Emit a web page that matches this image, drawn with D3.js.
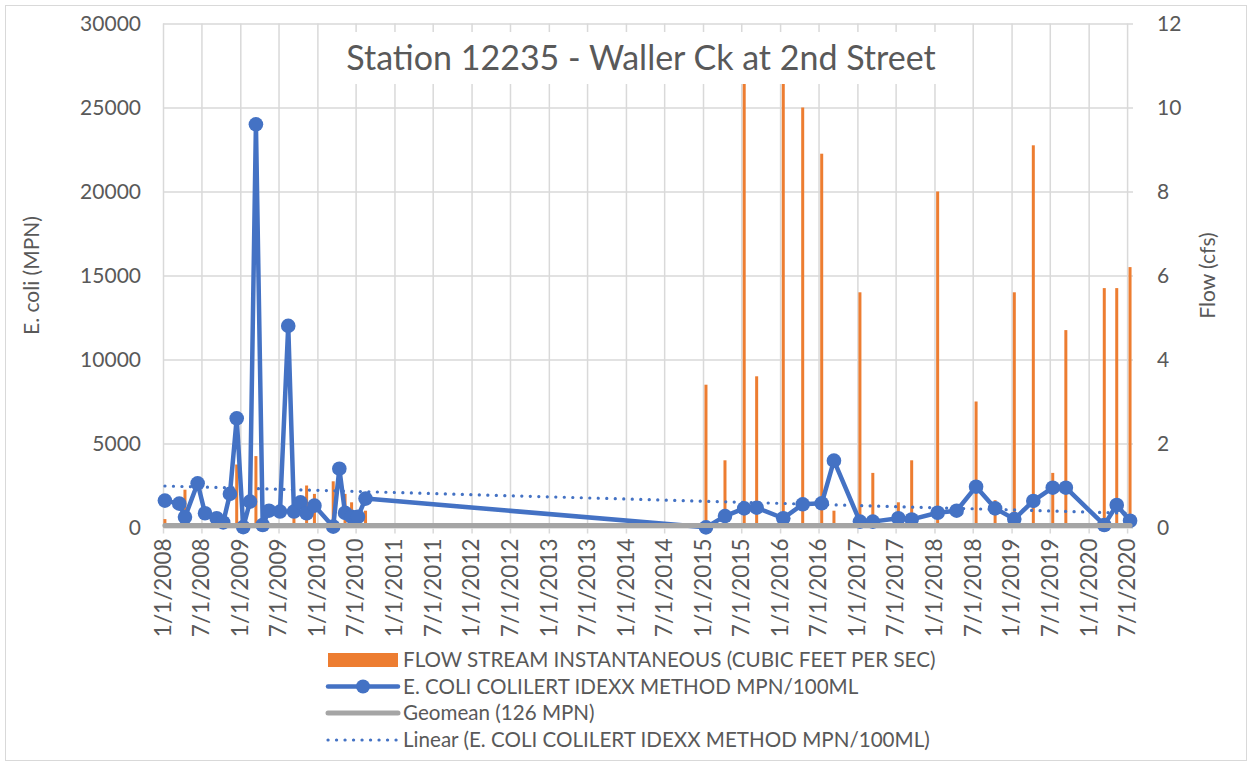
<!DOCTYPE html>
<html>
<head>
<meta charset="utf-8">
<script src="https://cdn.jsdelivr.net/npm/d3@7"></script>
<style>
  body { margin: 0; background: #fff; }
  text { font-family: Lato, "Open Sans", sans-serif; fill: #595959; }
</style>
</head>
<body>
<div id="chart"></div>
<script>
// sample dates (E. coli + flow measured the same day)
const sampleDates = [
  "2008-01-10", "2008-03-18", "2008-04-14", "2008-06-13", "2008-07-18", "2008-09-11",
  "2008-10-12", "2008-11-13", "2008-12-15", "2009-01-15", "2009-02-16", "2009-03-16",
  "2009-04-17", "2009-05-17", "2009-07-08", "2009-08-16", "2009-09-12", "2009-10-13",
  "2009-11-11", "2009-12-18", "2010-03-17", "2010-04-15", "2010-05-12", "2010-06-12",
  "2010-07-12", "2010-08-17",
  "2015-01-15", "2015-04-15", "2015-07-15", "2015-09-12", "2016-01-16", "2016-04-17",
  "2016-07-16", "2016-09-12", "2017-01-13", "2017-03-15", "2017-07-14", "2017-09-15",
  "2018-01-16", "2018-04-16", "2018-07-17", "2018-10-15", "2019-01-14", "2019-04-14",
  "2019-07-15", "2019-09-15", "2020-03-15", "2020-05-13", "2020-07-15"
];
// E. COLI COLILERT IDEXX METHOD MPN/100ML
const ecoli = [
  1600, 1420, 620, 2630, 850, 550,
  300, 2000, 6500, 20, 1540, 24000,
  150, 1000, 950, 12000, 950, 1500,
  850, 1300, 50, 3500, 870, 640,
  640, 1720,
  10, 680, 1140, 1180, 550, 1380,
  1440, 3980, 350, 350, 550, 480,
  880, 1000, 2430, 1140, 500, 1580,
  2370, 2370, 150, 1340, 400
];
// FLOW STREAM INSTANTANEOUS (cfs), null = not recorded
const flow = [
  0.2, null, 0.9, null, null, null,
  null, null, 1.5, null, null, 1.7,
  null, null, null, null, 0.3, null,
  1.0, 0.8, 1.1, null, 0.8, 0.6,
  null, 0.4,
  3.4, 1.6, 11.0, 3.6, 11.2, 10.0,
  8.9, 0.4, 5.6, 1.3, 0.6, 1.6,
  8.0, null, 3.0, 0.65, 5.6, 9.1,
  1.3, 4.7, 5.7, 5.7, 6.2
];
const geomean = 126;
const trendEnds = [2470, 850];   // linear trendline value at first and last sample
const leftTicks = [0, 5000, 10000, 15000, 20000, 25000, 30000];
const rightTicks = [0, 2, 4, 6, 8, 10, 12];

const W = 1252, H = 766;
const plot = { left: 163, right: 1133, top: 23.5, bottom: 527.5 };

const parse = d3.timeParse("%Y-%m-%d");
const dates = sampleDates.map(parse);

const svg = d3.select("#chart").append("svg")
  .attr("width", W).attr("height", H);

svg.append("rect").attr("x", 5.5).attr("y", 5.5)
  .attr("width", W - 11).attr("height", H - 11)
  .attr("fill", "#fff").attr("stroke", "#d9d9d9");

const x = d3.scaleTime()
  .domain([new Date(2008, 0, 1), new Date(2020, 6, 29)])
  .range([plot.left, plot.right]);
const y = d3.scaleLinear().domain([0, 30000]).range([plot.bottom, plot.top]);
const y2 = d3.scaleLinear().domain([0, 12]).range([plot.bottom, plot.top]);

const xTicks = d3.timeMonth.every(6).range(new Date(2008, 0, 1), new Date(2020, 6, 2));
const fmt = d3.timeFormat("%-m/%-d/%Y");

// gridlines
svg.append("g")
  .attr("transform", `translate(${plot.left},0)`)
  .call(d3.axisLeft(y).tickValues(leftTicks).tickSize(-(plot.right - plot.left)).tickFormat(""))
  .call(g => g.select(".domain").remove())
  .selectAll("line").attr("stroke", "#d9d9d9").attr("stroke-width", 1.5);

svg.append("g")
  .attr("transform", `translate(0,${plot.bottom + 6})`)
  .call(d3.axisBottom(x).tickValues(xTicks).tickSize(-(plot.bottom + 6 - plot.top)).tickFormat(""))
  .call(g => g.select(".domain").remove())
  .selectAll("line").attr("stroke", "#d9d9d9").attr("stroke-width", 1.5);

// left axis labels
svg.append("g")
  .attr("transform", `translate(${plot.left - 22},0)`)
  .call(d3.axisLeft(y).tickValues(leftTicks).tickSize(0).tickFormat(d3.format("d")))
  .call(g => g.select(".domain").remove())
  .selectAll("text").attr("x", 0).attr("font-size", 21);

// right axis labels
svg.append("g")
  .attr("transform", `translate(${plot.right + 24},0)`)
  .call(d3.axisRight(y2).tickValues(rightTicks).tickSize(0))
  .call(g => g.select(".domain").remove())
  .selectAll("text").attr("x", 0).attr("font-size", 21);

// x axis labels, rotated
svg.append("g")
  .selectAll("text")
  .data(xTicks)
  .join("text")
  .attr("transform", d => `translate(${x(d)},${plot.bottom + 11}) rotate(-90)`)
  .attr("text-anchor", "end")
  .attr("dy", "0.35em")
  .attr("font-size", 22.5)
  .text(d => fmt(d));

// axis titles
svg.append("text")
  .attr("transform", `translate(32,${(plot.top + plot.bottom) / 2}) rotate(-90)`)
  .attr("text-anchor", "middle").attr("dy", "0.35em")
  .attr("font-size", 21).text("E. coli (MPN)");
svg.append("text")
  .attr("transform", `translate(1208,${(plot.top + plot.bottom) / 2}) rotate(-90)`)
  .attr("text-anchor", "middle").attr("dy", "0.35em")
  .attr("font-size", 21).text("Flow (cfs)");

// flow bars
const rows = dates.map((d, i) => ({ date: d, ecoli: ecoli[i], flow: flow[i] }));
svg.append("g")
  .selectAll("rect")
  .data(rows.filter(r => r.flow != null))
  .join("rect")
  .attr("x", d => x(d.date) - 1.5)
  .attr("width", 3)
  .attr("y", d => y2(d.flow))
  .attr("height", d => plot.bottom - y2(d.flow))
  .attr("fill", "#ed7d31");

// trendline
const trendLine = d3.line().x(d => x(d[0])).y(d => y(d[1]));
svg.append("path")
  .datum([[dates[0], trendEnds[0]], [dates[dates.length - 1], trendEnds[1]]])
  .attr("d", trendLine)
  .attr("fill", "none")
  .attr("stroke", "#4472c4")
  .attr("stroke-width", 3.2)
  .attr("stroke-linecap", "round")
  .attr("stroke-dasharray", "0.1,8.4");

// e. coli line + markers
const line = d3.line().x(d => x(d.date)).y(d => y(d.ecoli));
svg.append("path")
  .datum(rows)
  .attr("d", line)
  .attr("fill", "none")
  .attr("stroke", "#4472c4")
  .attr("stroke-width", 4.5)
  .attr("stroke-linejoin", "round");

svg.append("g")
  .selectAll("circle")
  .data(rows)
  .join("circle")
  .attr("cx", d => x(d.date))
  .attr("cy", d => y(d.ecoli))
  .attr("r", 7.3)
  .attr("fill", "#4472c4");

// geomean
svg.append("line")
  .attr("x1", x(dates[0])).attr("x2", x(dates[dates.length - 1]))
  .attr("y1", y(geomean)).attr("y2", y(geomean))
  .attr("stroke", "#a5a5a5").attr("stroke-width", 5)
  .attr("stroke-linecap", "round");

// title (Excel draws it on a white box over the plot)
svg.append("rect")
  .attr("x", 330).attr("y", 32).attr("width", 622).attr("height", 52)
  .attr("fill", "#fff");
svg.append("text")
  .attr("x", 641).attr("y", 58)
  .attr("text-anchor", "middle").attr("dy", "0.35em")
  .attr("font-size", 34)
  .text("Station 12235 - Waller Ck at 2nd Street");

// legend
const legend = svg.append("g").attr("transform", "translate(326,0)");
const rowY = [660, 686.5, 713, 740];
const labels = [
  "FLOW STREAM INSTANTANEOUS (CUBIC FEET PER SEC)",
  "E. COLI COLILERT IDEXX METHOD MPN/100ML",
  "Geomean (126 MPN)",
  "Linear (E. COLI COLILERT IDEXX METHOD MPN/100ML)"
];
legend.append("rect").attr("x", 2).attr("y", rowY[0] - 7).attr("width", 70).attr("height", 14)
  .attr("fill", "#ed7d31");
legend.append("line").attr("x1", 2).attr("x2", 72).attr("y1", rowY[1]).attr("y2", rowY[1])
  .attr("stroke", "#4472c4").attr("stroke-width", 4.5).attr("stroke-linecap", "round");
legend.append("circle").attr("cx", 37).attr("cy", rowY[1]).attr("r", 7).attr("fill", "#4472c4");
legend.append("line").attr("x1", 2).attr("x2", 72).attr("y1", rowY[2]).attr("y2", rowY[2])
  .attr("stroke", "#a5a5a5").attr("stroke-width", 5).attr("stroke-linecap", "round");
legend.append("line").attr("x1", 2).attr("x2", 72).attr("y1", rowY[3]).attr("y2", rowY[3])
  .attr("stroke", "#4472c4").attr("stroke-width", 3.2).attr("stroke-linecap", "round")
  .attr("stroke-dasharray", "0.1,8.4");
legend.selectAll("text.lbl")
  .data(labels)
  .join("text")
  .attr("class", "lbl")
  .attr("x", 77)
  .attr("y", (d, i) => rowY[i])
  .attr("dy", "0.35em")
  .attr("font-size", 20.6)
  .text(d => d);
</script>
</body>
</html>
